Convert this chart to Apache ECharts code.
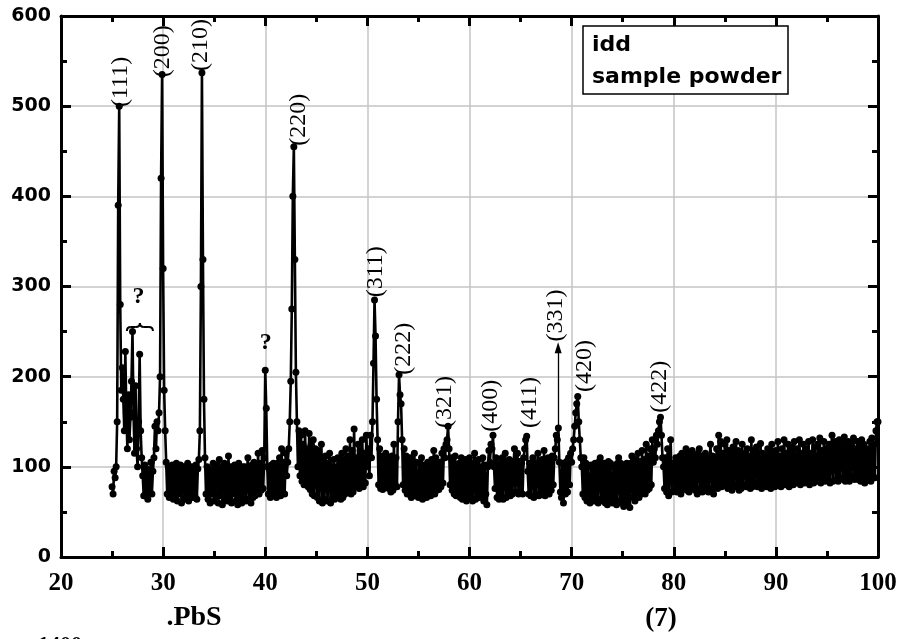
<!DOCTYPE html>
<html><head><meta charset="utf-8">
<script src="https://cdn.jsdelivr.net/npm/echarts@6/dist/echarts.min.js"></script>
<style>html,body{margin:0;padding:0;background:#fff}#c{width:902px;height:639px}</style>
</head><body><div id="c"></div>
<script>
// 2-theta sampling grid (degrees)
const twoThetaStart = 25, twoThetaStep = 0.1;
const intensity = [].concat(
 [78,70,95,88,100,150,390,500,280,185],      // 25
 [210,175,140,228,160,120,180,130,155,195],  // 26
 [250,160,115,190,120,100,150,225,140,110],  // 27
 [90,68,102,70,98,64,96,72,105,70],          // 28
 [95,110,145,120,150,140,160,200,420,535],   // 29
 [320,185,140,105,70,100,66,98,72,102],      // 30
 [64,98,68,104,62,96,70,102,60,95],          // 31
 [100,64,96,70,104,62,98,68,100,66],         // 32
 [96,68,102,64,98,108,140,300,537,330],      // 33
 [175,110,70,100,64,98,60,96,70,104],        // 34
 [62,98,66,102,60,108,68,96,58,100],         // 35
 [104,64,98,62,112,68,100,60,96,70],         // 36
 [102,62,96,58,104,66,98,60,100,64],         // 37
 [100,62,96,110,64,98,60,102,66,105],        // 38
 [68,100,72,115,70,104,74,118,76,110],       // 39
 [207,165,100,70,98,66,102,68,104,72],       // 40
 [98,66,104,70,110,68,120,72,105,70],        // 41
 [115,90,105,120,150,195,275,400,455,330],   // 42
 [205,150,100,140,90,135,84,125,80,140],     // 43
 [82,120,78,137,75,125,70,130,68,120],       // 44
 [105,66,118,62,110,125,60,105,64,112],      // 45
 [100,62,104,115,60,100,66,108,64,100],      // 46
 [70,110,68,104,64,115,66,108,70,120],       // 47
 [75,112,72,130,70,118,72,142,78,110],       // 48
 [80,125,76,118,80,130,78,115,82,135],       // 49
 [100,120,90,135,110,150,215,285,245,175],   // 50
 [130,80,120,76,112,75,108,78,115,82],       // 51
 [110,76,108,72,112,74,125,80,110,78],       // 52
 [150,202,180,170,130,80,120,74,112,70],     // 53
 [106,70,110,66,104,72,115,68,105,72],       // 54
 [66,104,70,110,64,102,68,100,66,105],       // 55
 [70,102,68,108,72,118,70,110,74,104],       // 56
 [75,105,78,115,82,120,110,125,130,145],     // 57
 [120,80,110,74,104,70,112,68,100,72],       // 58
 [104,66,110,64,102,68,108,62,104,70],       // 59
 [110,66,104,62,100,115,64,104,70,108],      // 60
 [66,100,68,110,62,102,70,58,100,118],       // 61
 [105,125,120,135,100,76,110,66,100,64],     // 62
 [104,68,110,64,100,115,66,104,70,108],      // 63
 [68,106,70,100,120,72,104,115,70,106],      // 64
 [72,104,70,110,120,130,134,95,70,104],      // 65
 [68,100,110,66,104,70,100,115,68,104],      // 66
 [72,108,70,118,68,106,72,110,70,105],       // 67
 [74,112,80,110,120,135,130,143,105,72],     // 68
 [66,104,60,100,70,106,72,110,80,115],       // 69
 [105,120,130,145,160,170,178,150,130,110],  // 70
 [100,70,110,66,104,62,100,68,60,102],       // 71
 [66,100,62,104,64,102,60,106,110,64],       // 72
 [100,62,104,60,100,58,106,62,104,66],       // 73
 [60,100,64,102,58,104,110,62,104,60],       // 74
 [100,56,102,62,104,60,100,55,104,112],      // 75
 [66,104,62,108,68,115,66,106,70,118],       // 76
 [72,108,70,125,74,112,76,120,80,130],       // 77
 [105,120,110,135,125,140,150,155,135,110],  // 78
 [100,76,110,72,120,68,105,130,72,100],      // 79
 [104,74,110,72,108,76,112,70,115,76],       // 80
 [108,78,120,74,112,72,115,76,118,80],       // 81
 [110,74,112,70,115,120,76,110,72,112],      // 82
 [76,115,74,110,72,108,125,76,112,70],       // 83
 [110,78,120,76,135,80,128,78,115,80],       // 84
 [125,80,130,76,118,78,112,74,122,78],       // 85
 [80,128,78,118,74,112,76,125,80,108],       // 86
 [115,78,120,80,112,76,130,78,118,82],       // 87
 [80,122,78,115,82,126,76,115,80,112],       // 88
 [112,78,120,80,115,76,125,80,112,78],       // 89
 [118,80,128,82,112,78,120,84,130,80],       // 90
 [115,82,125,78,118,84,122,80,128,86],       // 91
 [82,120,84,130,80,115,86,125,82,118],       // 92
 [120,84,128,80,115,86,130,82,122,88],       // 93
 [84,125,86,132,82,118,88,128,84,120],       // 94
 [118,86,125,82,120,135,84,118,128,86],      // 95
 [125,84,130,88,120,128,86,133,84,122],      // 96
 [86,128,84,125,90,118,132,86,120,88],       // 97
 [128,86,122,84,130,88,125,82,118,90],       // 98
 [120,88,128,84,132,90,125,88,140,150],      // 99
 [150]                                       // 100
);

// peak annotations (Miller indices), anchored at label base in data units
const peakLabels = ['(111)','(200)','(210)','(220)','(311)','(222)','(321)','(400)','(411)','(331)','(420)','(422)'];
const peakLabelX = [25.8, 29.94, 33.68, 43.25, 50.82, 53.6, 57.56, 62.06, 65.9, 68.4, 71.3, 78.6];
const peakLabelY = [499, 532, 539, 456, 288, 202, 143, 139, 143, 239, 183, 160];
// arrow for (331)
const arrowX = 68.68, arrowFrom = 146, arrowTo = 232;
// question marks and brace
const qMarkX = [27.6, 40.05], qMarkY = [289, 238];
const braceFrom = 26.45, braceTo = 29.0, braceY = 254;

const xMin = 20, xMax = 100, xStep = 10;
const yMin = 0, yMax = 600, yStep = 100;

const seriesData = intensity.map((v, i) => [+(twoThetaStart + i * twoThetaStep).toFixed(2), v]);

const chart = echarts.init(document.getElementById('c'), null, {renderer: 'canvas'});

const axisLine = {show: true, onZero: false, lineStyle: {color: '#000', width: 3}};
const axisTick = {show: true, inside: true, length: 10, lineStyle: {color: '#000', width: 3}};
const minorTick = {show: true, splitNumber: 2, length: 6, lineStyle: {color: '#000', width: 3}};
const splitLine = {show: true, lineStyle: {color: '#c4c4c4', width: 1.5}};

chart.setOption({
  animation: false,
  backgroundColor: '#fff',
  grid: {left: 61, right: 24, top: 16, bottom: 82, containLabel: false},
  xAxis: [
    {type: 'value', min: xMin, max: xMax, interval: xStep, position: 'bottom',
     axisLine, axisTick, minorTick, splitLine,
     axisLabel: {color: '#000', fontFamily: 'Liberation Serif', fontWeight: 'bold', fontSize: 25, margin: 14}},
    {type: 'value', min: xMin, max: xMax, interval: xStep, position: 'top',
     axisLine, axisTick, minorTick, splitLine: {show: false}, axisLabel: {show: false}}
  ],
  yAxis: [
    {type: 'value', min: yMin, max: yMax, interval: yStep, position: 'left',
     axisLine, axisTick, minorTick, splitLine,
     axisLabel: {color: '#000', fontFamily: 'DejaVu Sans', fontWeight: 'bold', fontSize: 19, margin: 10}},
    {type: 'value', min: yMin, max: yMax, interval: yStep, position: 'right',
     axisLine, axisTick, minorTick, splitLine: {show: false}, axisLabel: {show: false}}
  ],
  series: [{
    type: 'line', xAxisIndex: 0, yAxisIndex: 0,
    data: seriesData,
    symbol: 'circle', symbolSize: 7, showAllSymbol: true,
    lineStyle: {color: '#000', width: 2.6},
    itemStyle: {color: '#000'},
    z: 5,
    markLine: {
      silent: true, animation: false,
      symbol: ['none', 'triangle'], symbolSize: [7, 11],
      lineStyle: {color: '#000', width: 1.3, type: 'solid'},
      label: {show: false},
      data: [[{coord: [arrowX, arrowFrom]}, {coord: [arrowX, arrowTo]}]]
    }
  }]
});

const toPx = (x, y) => chart.convertToPixel({xAxisIndex: 0, yAxisIndex: 0}, [x, y]);
const graphics = [];
peakLabels.forEach((t, i) => {
  const p = toPx(peakLabelX[i], peakLabelY[i]);
  graphics.push({type: 'text', x: p[0], y: p[1], rotation: Math.PI / 2, z: 100,
    style: {text: t, fontFamily: 'Liberation Serif', fontSize: 24, fill: '#000', align: 'left', verticalAlign: 'middle'}});
});
qMarkX.forEach((x, i) => {
  const p = toPx(x, qMarkY[i]);
  graphics.push({type: 'text', x: p[0], y: p[1], z: 100,
    style: {text: '?', fontFamily: 'Liberation Serif', fontWeight: 'bold', fontSize: 24, fill: '#000', align: 'center', verticalAlign: 'middle'}});
});
{
  // horizontal curly brace over the unidentified reflections
  const a = toPx(braceFrom, braceY), b = toPx(braceTo, braceY);
  const x1 = a[0], x2 = b[0], y0 = a[1] + 3, xm = (x1 + x2) / 2, yb = y0 - 4, yt = y0 - 8;
  const bs = {fill: 'none', stroke: '#000', lineWidth: 2};
  graphics.push(
    {type: 'bezierCurve', z: 100, shape: {x1: x1, y1: y0, cpx1: x1, cpy1: yb, x2: x1 + 4, y2: yb}, style: bs},
    {type: 'line', z: 100, shape: {x1: x1 + 4, y1: yb, x2: xm - 4, y2: yb}, style: bs},
    {type: 'bezierCurve', z: 100, shape: {x1: xm - 4, y1: yb, cpx1: xm, cpy1: yb, x2: xm, y2: yt}, style: bs},
    {type: 'bezierCurve', z: 100, shape: {x1: xm, y1: yt, cpx1: xm, cpy1: yb, x2: xm + 4, y2: yb}, style: bs},
    {type: 'line', z: 100, shape: {x1: xm + 4, y1: yb, x2: x2 - 4, y2: yb}, style: bs},
    {type: 'bezierCurve', z: 100, shape: {x1: x2 - 4, y1: yb, cpx1: x2, cpy1: yb, x2: x2, y2: y0}, style: bs}
  );
}
// legend box
graphics.push({type: 'rect', shape: {x: 583, y: 26, width: 205, height: 68}, z: 110,
  style: {fill: '#fff', stroke: '#000', lineWidth: 1.5}});
graphics.push({type: 'text', x: 592, y: 45, z: 111,
  style: {text: 'idd', fontFamily: 'DejaVu Sans', fontWeight: 'bold', fontSize: 22, fill: '#000', align: 'left', verticalAlign: 'middle'}});
graphics.push({type: 'text', x: 592, y: 77, z: 111,
  style: {text: 'sample powder', fontFamily: 'DejaVu Sans', fontWeight: 'bold', fontSize: 22, fill: '#000', align: 'left', verticalAlign: 'middle'}});
// captions below the axis
graphics.push({type: 'text', x: 194, y: 618, z: 100,
  style: {text: '.PbS', fontFamily: 'Liberation Serif', fontWeight: 'bold', fontSize: 28, fill: '#000', align: 'center', verticalAlign: 'middle'}});
graphics.push({type: 'text', x: 661, y: 619, z: 100,
  style: {text: '(7)', fontFamily: 'Liberation Serif', fontWeight: 'bold', fontSize: 27, fill: '#000', align: 'center', verticalAlign: 'middle'}});
graphics.push({type: 'text', x: 38, y: 634, z: 100,
  style: {text: '1400', fontFamily: 'Liberation Serif', fontWeight: 'bold', fontSize: 22, fill: '#000', align: 'left', verticalAlign: 'top'}});

chart.setOption({graphic: graphics});
</script>
</body></html>
